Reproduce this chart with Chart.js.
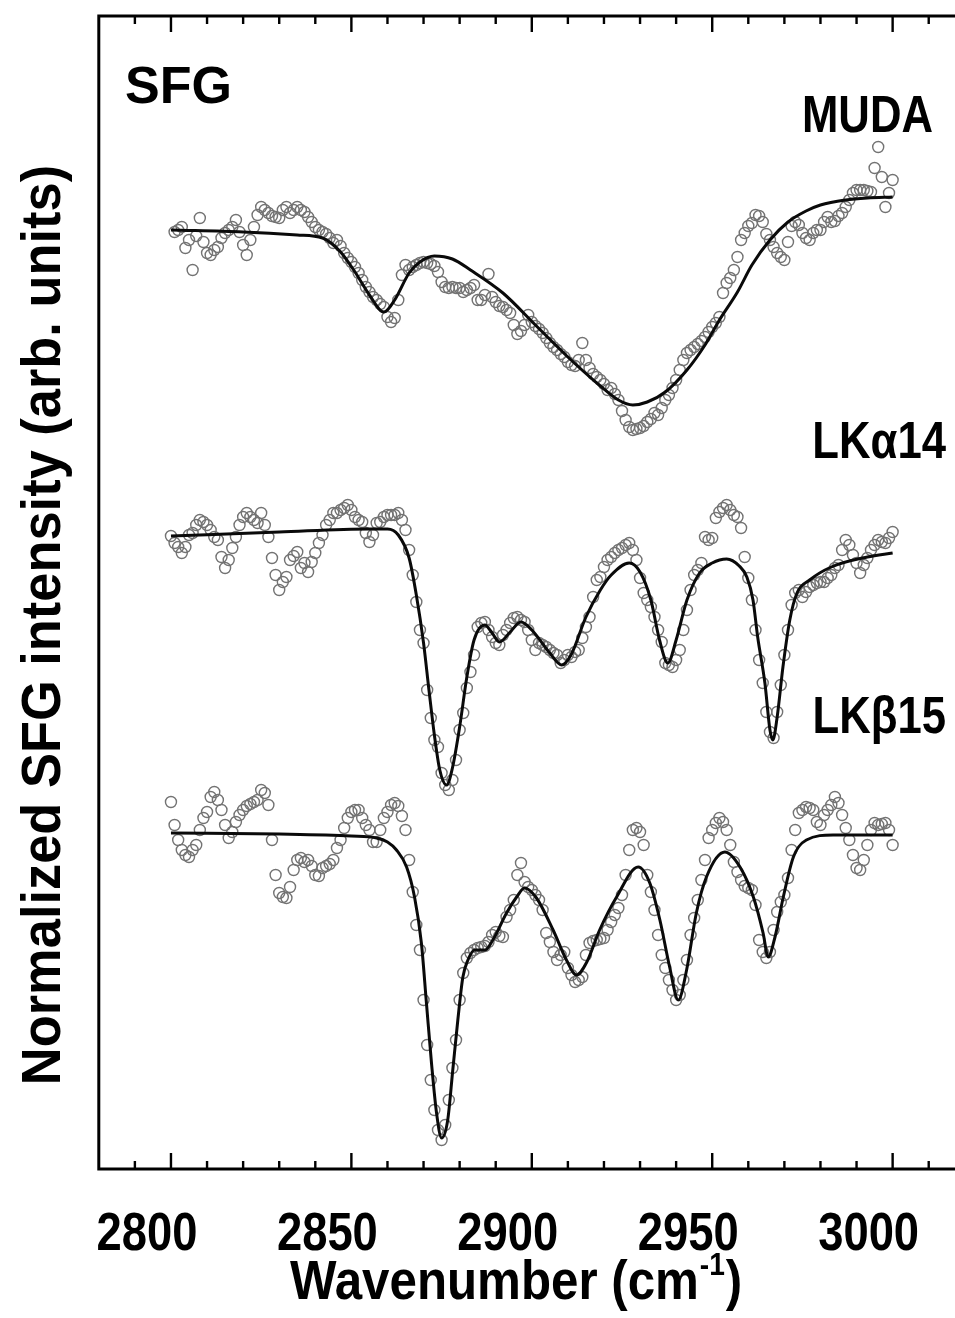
<!DOCTYPE html>
<html>
<head>
<meta charset="utf-8">
<script src="https://cdn.jsdelivr.net/npm/chart.js@4.4.1/dist/chart.umd.min.js"></script>
<style>
  html, body { margin: 0; padding: 0; background: #fff; overflow: hidden; width: 955px; height: 1318px; }
  canvas { display: block; }
</style>
</head>
<body>
<canvas id="c" width="980" height="1318" style="width:980px;height:1318px"></canvas>
<script>
// ---------------- data ----------------
const xTickLabels = [2800, 2850, 2900, 2950, 3000];
const yAxisTitle = 'Normalized SFG intensity (arb. units)';
const xAxisTitle = 'Wavenumber (cm';
const xAxisTitleSup = '-1';
const panelTitle = 'SFG';
const seriesNames = ['MUDA', 'LK\u03B114', 'LK\u03B215'];

// measured spectra, one point per cm-1
const mudaStart = 2801;
const mudaPoints = [
  9.37, 9.39, 9.42, 9.21, 9.29, 8.99, 9.33, 9.51, 9.27, 9.16,
  9.14, 9.19, 9.22, 9.31, 9.36, 9.39, 9.42, 9.49, 9.37, 9.24,
  9.14, 9.29, 9.42, 9.54, 9.62, 9.59, 9.56, 9.53, 9.52, 9.51,
  9.59, 9.62, 9.56, 9.59, 9.62, 9.59, 9.57, 9.52, 9.47, 9.42,
  9.39, 9.37, 9.35, 9.31, 9.26, 9.29, 9.23, 9.16, 9.11, 9.07,
  9.02, 8.96, 8.89, 8.82, 8.77, 8.72, 8.69, 8.65, 8.62, 8.52,
  8.47, 8.51, 8.69, 8.94, 9.04, 8.99, 9.02, 9.04, 9.06, 9.07,
  9.06, 9.05, 9.03, 8.97, 8.87, 8.82, 8.81, 8.82, 8.81, 8.81,
  8.77, 8.79, 8.81, 8.84, 8.69, 8.69, 8.74, 8.95, 8.72, 8.67,
  8.63, 8.62, 8.59, 8.56, 8.44, 8.35, 8.38, 8.44, 8.54, 8.47,
  8.43, 8.40, 8.36, 8.31, 8.26, 8.22, 8.19, 8.15, 8.12, 8.07,
  8.04, 8.03, 8.09, 8.26, 8.09, 8.01, 7.95, 7.92, 7.89, 7.85,
  7.79, 7.81, 7.75, 7.69, 7.58, 7.49, 7.42, 7.39, 7.40, 7.41,
  7.43, 7.47, 7.50, 7.56, 7.54, 7.61, 7.69, 7.74, 7.81, 7.89,
  7.99, 8.09, 8.16, 8.19, 8.22, 8.25, 8.28, 8.32, 8.37, 8.42,
  8.46, 8.52, 8.76, 8.86, 8.91, 8.99, 9.12, 9.29, 9.36, 9.43,
  9.46, 9.54, 9.53, 9.47, 9.35, 9.29, 9.22, 9.16, 9.12, 9.09,
  9.27, 9.43, 9.47, 9.44, 9.36, 9.31, 9.29, 9.36, 9.39, 9.39,
  9.47, 9.52, 9.47, 9.48, 9.53, 9.56, 9.62, 9.69, 9.76, 9.79,
  9.79, 9.79, 9.78, 9.77, 10.01, 10.22, 9.92, 9.62, 9.76, 9.89
];

const lkaStart = 2800;
const lkaPoints = [
  6.33, 6.26, 6.22, 6.16, 6.22, 6.34, 6.36, 6.44, 6.49, 6.47,
  6.44, 6.39, 6.32, 6.29, 6.12, 6.01, 6.09, 6.21, 6.32, 6.44,
  6.52, 6.56, 6.52, 6.49, 6.46, 6.56, 6.44, 6.32, 6.11, 5.94,
  5.79, 5.87, 5.92, 6.09, 6.13, 6.17, 6.01, 6.06, 5.97, 6.07,
  6.16, 6.26, 6.34, 6.44, 6.49, 6.56, 6.56, 6.59, 6.61, 6.64,
  6.59, 6.52, 6.49, 6.47, 6.36, 6.27, 6.34, 6.46, 6.47, 6.52,
  6.54, 6.54, 6.54, 6.56, 6.49, 6.39, 6.19, 5.94, 5.67, 5.39,
  5.26, 4.79, 4.51, 4.29, 4.22, 3.96, 3.84, 3.79, 3.89, 4.09,
  4.39, 4.56, 4.81, 4.97, 5.14, 5.42, 5.46, 5.47, 5.39, 5.32,
  5.26, 5.24, 5.34, 5.39, 5.46, 5.51, 5.52, 5.49, 5.47, 5.39,
  5.29, 5.19, 5.26, 5.24, 5.22, 5.19, 5.16, 5.14, 5.06, 5.09,
  5.14, 5.12, 5.17, 5.19, 5.31, 5.42, 5.52, 5.72, 5.89, 5.92,
  6.02, 6.09, 6.12, 6.16, 6.19, 6.21, 6.24, 6.26, 6.19, 6.09,
  5.91, 5.76, 5.69, 5.62, 5.52, 5.39, 5.27, 5.06, 5.04, 5.02,
  5.09, 5.19, 5.39, 5.59, 5.79, 5.94, 5.99, 6.06, 6.32, 6.29,
  6.31, 6.51, 6.57, 6.61, 6.64, 6.59, 6.54, 6.52, 6.41, 6.12,
  5.91, 5.69, 5.39, 5.09, 4.86, 4.57, 4.37, 4.31, 4.57, 4.84,
  5.14, 5.39, 5.64, 5.76, 5.79, 5.72, 5.77, 5.82, 5.84, 5.86,
  5.87, 5.87, 5.91, 5.94, 6.01, 6.04, 6.19, 6.29, 6.24, 6.14,
  6.06, 5.96, 6.04, 6.11, 6.19, 6.24, 6.29, 6.27, 6.26, 6.31,
  6.37
];

const lkbStart = 2800;
const lkbPoints = [
  3.67, 3.44, 3.29, 3.19, 3.14, 3.12, 3.19, 3.24, 3.39, 3.51,
  3.57, 3.72, 3.77, 3.69, 3.59, 3.44, 3.31, 3.37, 3.47, 3.54,
  3.59, 3.63, 3.65, 3.67, 3.69, 3.79, 3.76, 3.64, 3.29, 2.94,
  2.76, 2.72, 2.71, 2.82, 2.99, 3.09, 3.11, 3.07, 3.09, 3.03,
  2.94, 2.93, 3.01, 3.03, 3.05, 3.09, 3.21, 3.29, 3.41, 3.51,
  3.57, 3.59, 3.59, 3.51, 3.44, 3.39, 3.27, 3.27, 3.39, 3.51,
  3.57, 3.64, 3.66, 3.63, 3.53, 3.39, 3.09, 2.77, 2.44, 2.19,
  1.69, 1.24, 0.89, 0.59, 0.39, 0.29, 0.44, 0.69, 1.01, 1.29,
  1.69, 1.96, 2.11, 2.16, 2.19, 2.21, 2.22, 2.23, 2.27, 2.34,
  2.37, 2.33, 2.32, 2.52, 2.59, 2.69, 2.94, 3.06, 2.87, 2.82,
  2.79, 2.74, 2.69, 2.59, 2.36, 2.27, 2.17, 2.09, 2.14, 2.17,
  2.01, 1.94, 1.87, 1.89, 1.92, 2.14, 2.26, 2.28, 2.29, 2.30,
  2.31, 2.39, 2.47, 2.54, 2.61, 2.74, 2.94, 3.19, 3.39, 3.41,
  3.37, 3.24, 2.94, 2.77, 2.59, 2.34, 2.14, 2.01, 1.89, 1.79,
  1.69, 1.74, 1.89, 2.09, 2.34, 2.51, 2.69, 2.89, 3.09, 3.31,
  3.39, 3.46, 3.51, 3.47, 3.39, 3.24, 3.07, 2.97, 2.89, 2.83,
  2.81, 2.79, 2.64, 2.29, 2.17, 2.11, 2.17, 2.39, 2.57, 2.67,
  2.74, 2.91, 3.19, 3.39, 3.56, 3.59, 3.62, 3.61, 3.59, 3.47,
  3.44, 3.54, 3.59, 3.64, 3.72, 3.66, 3.54, 3.41, 3.29, 3.14,
  3.01, 2.99, 3.09, 3.24, 3.39, 3.46, 3.44, 3.45, 3.46, 3.39,
  3.24
];

// fitted curves (wavenumber, intensity)
const mudaFitWn = [2800, 2820, 2835, 2842, 2847, 2851, 2855, 2859, 2862, 2866, 2869, 2873, 2878, 2883, 2892, 2901, 2910, 2919, 2924, 2928, 2932, 2937, 2943, 2948, 2952, 2957, 2961, 2966, 2971, 2976, 2980, 2987, 2993, 3000];
const mudaFitVal = [9.39, 9.37, 9.34, 9.31, 9.17, 8.97, 8.74, 8.57, 8.69, 8.96, 9.07, 9.13, 9.10, 8.99, 8.76, 8.44, 8.12, 7.83, 7.69, 7.64, 7.67, 7.77, 7.99, 8.24, 8.49, 8.77, 9.04, 9.29, 9.47, 9.58, 9.64, 9.69, 9.71, 9.72];

const lkaFitWn = [2800, 2830, 2855, 2860, 2863, 2866, 2868, 2870, 2871.5, 2873, 2874.5, 2876.4, 2878, 2880, 2882, 2884, 2887, 2889, 2891, 2894, 2897, 2900, 2905, 2908.3, 2911, 2915, 2919, 2922, 2927, 2930, 2933, 2935.4, 2937.7, 2940, 2943, 2946.5, 2950, 2954, 2957.5, 2959.6, 2961.3, 2962.6, 2964.6, 2966, 2966.8, 2968, 2969.6, 2971.5, 2973.5, 2977, 2983, 2993, 3000];
const lkaFitVal = [6.33, 6.37, 6.40, 6.40, 6.34, 6.11, 5.74, 5.26, 4.79, 4.34, 3.99, 3.84, 4.01, 4.42, 4.92, 5.29, 5.44, 5.36, 5.27, 5.37, 5.47, 5.39, 5.16, 5.04, 5.15, 5.52, 5.79, 5.94, 6.06, 5.97, 5.69, 5.29, 5.06, 5.29, 5.69, 5.96, 6.06, 6.10, 6.03, 5.92, 5.69, 5.32, 4.86, 4.39, 4.29, 4.52, 5.02, 5.49, 5.76, 5.89, 6.02, 6.12, 6.16];

const lkbFitWn = [2800, 2830, 2850, 2857, 2860, 2862.5, 2865.3, 2867.5, 2869.4, 2870.8, 2872.2, 2873.6, 2875, 2876.7, 2878.1, 2879.5, 2880.9, 2882.3, 2884.2, 2887, 2889.2, 2893, 2895.8, 2898, 2901.3, 2905.9, 2909.6, 2912.4, 2915.1, 2918.8, 2923.5, 2929.5, 2932.7, 2935.5, 2938.2, 2940.6, 2942.9, 2945.6, 2948.4, 2953.5, 2957.7, 2961.4, 2964.1, 2965.5, 2967.4, 2969.7, 2972.5, 2976.1, 2983.5, 3000];
const lkbFitVal = [3.36, 3.35, 3.33, 3.31, 3.27, 3.19, 3.02, 2.72, 2.26, 1.66, 1.06, 0.56, 0.31, 0.49, 0.99, 1.49, 1.92, 2.09, 2.19, 2.19, 2.29, 2.56, 2.72, 2.81, 2.71, 2.39, 2.09, 1.94, 2.06, 2.39, 2.72, 3.02, 2.86, 2.49, 2.02, 1.69, 1.99, 2.56, 2.92, 3.17, 3.02, 2.72, 2.36, 2.12, 2.32, 2.72, 3.12, 3.29, 3.34, 3.34];

// ---------------- helpers ----------------
function spectrum(start, vals) { return vals.map((v, i) => ({ x: start + i, y: v })); }
function curve(wns, vals) { return wns.map((w, i) => ({ x: w, y: vals[i] })); }

const BOLD = '"Liberation Sans", Arial, Helvetica, sans-serif';

function scatterSet(data) {
  return {
    data, showLine: false, order: 2,
    pointStyle: 'circle', pointRadius: 5.5, pointHoverRadius: 5.5,
    pointBorderWidth: 1.4, pointBorderColor: '#737373',
    pointBackgroundColor: 'rgba(255,255,255,0)'
  };
}
function fitSet(data) {
  return {
    data, showLine: true, order: 1,
    borderColor: '#0a0a0a', borderWidth: 3, pointRadius: 0,
    cubicInterpolationMode: 'monotone', fill: false
  };
}

function drawScaledText(ctx, text, x, y, size, sx, align) {
  ctx.save();
  ctx.translate(x, y);
  ctx.scale(sx, 1);
  ctx.font = 'bold ' + size + 'px ' + BOLD;
  ctx.textAlign = align;
  ctx.textBaseline = 'alphabetic';
  ctx.fillStyle = '#000';
  ctx.fillText(text, 0, 0);
  ctx.restore();
}

const framePlugin = {
  id: 'frame',
  afterDraw(chart) {
    const { ctx, chartArea: a, scales: { x } } = chart;
    ctx.save();
    ctx.strokeStyle = '#000';
    ctx.lineWidth = 3;
    ctx.beginPath();
    ctx.moveTo(a.left - 1.5, a.top); ctx.lineTo(a.right + 20, a.top);
    ctx.moveTo(a.left, a.top - 1.5); ctx.lineTo(a.left, a.bottom + 1.5);
    ctx.moveTo(a.left - 1.5, a.bottom); ctx.lineTo(a.right + 20, a.bottom);
    ctx.stroke();
    ctx.lineWidth = 2.4;
    x.ticks.forEach(t => {
      const v = t.value;
      if (v <= x.min) return;
      const px = x.getPixelForValue(v);
      const len = (v % 50 === 0) ? 16 : 8;
      ctx.beginPath();
      ctx.moveTo(px, a.bottom); ctx.lineTo(px, a.bottom - len);
      ctx.moveTo(px, a.top); ctx.lineTo(px, a.top + len);
      ctx.stroke();
    });
    ctx.restore();

    // x tick labels (condensed bold, shifted left of their ticks as in the original)
    xTickLabels.forEach(v => {
      drawScaledText(ctx, String(v), x.getPixelForValue(v) - 24, 1250, 54, 0.84, 'center');
    });

    // panel + series labels
    drawScaledText(ctx, panelTitle, 125, 103, 52, 1.0, 'left');
    drawScaledText(ctx, seriesNames[0], 933, 132, 52, 0.84, 'right');
    drawScaledText(ctx, seriesNames[1], 946, 458, 52, 0.84, 'right');
    drawScaledText(ctx, seriesNames[2], 946, 733, 52, 0.84, 'right');

    // y axis title (rotated)
    ctx.save();
    ctx.translate(60, 625);
    ctx.rotate(-Math.PI / 2);
    ctx.scale(0.936, 1);
    ctx.font = 'bold 56px ' + BOLD;
    ctx.textAlign = 'center';
    ctx.textBaseline = 'alphabetic';
    ctx.fillStyle = '#000';
    ctx.fillText(yAxisTitle, 0, 0);
    ctx.restore();

    // x axis title with superscript
    ctx.save();
    ctx.translate(290, 1299);
    ctx.scale(0.88, 1);
    ctx.fillStyle = '#000';
    ctx.textBaseline = 'alphabetic';
    ctx.textAlign = 'left';
    ctx.font = 'bold 56px ' + BOLD;
    ctx.fillText(xAxisTitle, 0, 0);
    let w = ctx.measureText(xAxisTitle).width;
    ctx.font = 'bold 32px ' + BOLD;
    ctx.fillText(xAxisTitleSup, w + 1, -24);
    w += ctx.measureText(xAxisTitleSup).width + 2;
    ctx.font = 'bold 56px ' + BOLD;
    ctx.fillText(')', w, 0);
    ctx.restore();
  }
};

new Chart(document.getElementById('c'), {
  type: 'scatter',
  data: {
    datasets: [
      fitSet(curve(mudaFitWn, mudaFitVal)),
      fitSet(curve(lkaFitWn, lkaFitVal)),
      fitSet(curve(lkbFitWn, lkbFitVal)),
      scatterSet(spectrum(mudaStart, mudaPoints)),
      scatterSet(spectrum(lkaStart, lkaPoints)),
      scatterSet(spectrum(lkbStart, lkbPoints))
    ]
  },
  options: {
    responsive: false,
    devicePixelRatio: 1,
    animation: false,
    layout: { padding: { left: 98.8, top: 16, right: 15.2, bottom: 0 } },
    plugins: { legend: { display: false }, tooltip: { enabled: false } },
    scales: {
      x: {
        type: 'linear',
        min: 2780, max: 3020,
        grid: { display: false, drawTicks: false },
        border: { display: false },
        afterFit(scale) { scale.height = 149; scale.paddingLeft = 0; scale.paddingRight = 0; },
        ticks: { display: false, stepSize: 10, autoSkip: false, maxRotation: 0 }
      },
      y: {
        display: false,
        min: 0, max: 11.53
      }
    }
  },
  plugins: [framePlugin]
});
</script>
</body>
</html>
